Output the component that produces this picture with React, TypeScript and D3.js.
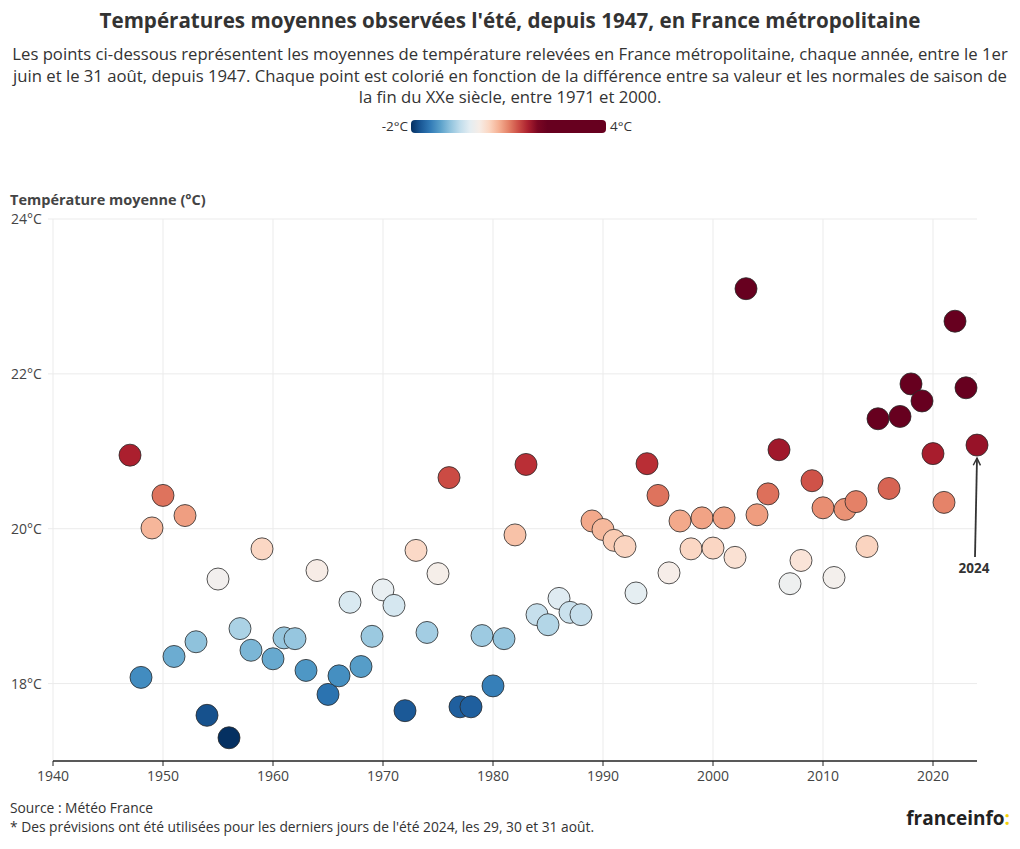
import React from "react";
import * as d3 from "d3";

const years: number[] = d3.range(1947, 2025);
const temps: number[] = [
  20.95, 18.08, 20.01, 20.43, 18.35, 20.17, 18.54, 17.59, 19.35, 17.30,
  18.71, 18.43, 19.74, 18.32, 18.59, 18.58, 18.17, 19.46, 17.86, 18.10,
  19.05, 18.22, 18.61, 19.21, 19.01, 17.65, 19.72, 18.66, 19.42, 20.66,
  17.70, 17.70, 18.62, 17.97, 18.58, 19.92, 20.83, 18.89, 18.76, 19.10,
  18.92, 18.89, 20.10, 19.99, 19.85, 19.77, 19.17, 20.84, 20.43, 19.43,
  20.10, 19.74, 20.14, 19.75, 20.14, 19.63, 23.10, 20.18, 20.45, 21.02,
  19.29, 19.59, 20.62, 20.27, 19.37, 20.25, 20.35, 19.77, 21.42, 20.52,
  21.45, 21.87, 21.65, 20.97, 20.34, 22.68, 21.82, 21.08,
];
const xTicks: number[] = [1940, 1950, 1960, 1970, 1980, 1990, 2000, 2010, 2020];
const yTicks: number[] = [18, 20, 22, 24];
const legendLabels: string[] = ["-2°C", "4°C"];
const subtitleLines: string[] = [
  "Les points ci-dessous représentent les moyennes de température relevées en France métropolitaine, chaque année, entre le 1er",
  "juin et le 31 août, depuis 1947. Chaque point est colorié en fonction de la différence entre sa valeur et les normales de saison de",
  "la fin du XXe siècle, entre 1971 et 2000.",
];

const FONT = "'Open Sans', Lato, sans-serif";
const W = 1020;
const H = 849;

export default function App() {
  const x = d3.scaleLinear().domain([1940, 2024]).range([53, 977]);
  const y = d3.scaleLinear().domain([17, 24]).range([761, 219]);
  const normalVals = years
    .map((yr, i) => ({ yr, t: temps[i] }))
    .filter((d) => d.yr >= 1971 && d.yr <= 2000)
    .map((d) => d.t);
  const normal = d3.mean(normalVals) as number;
  const color = (anom: number) => {
    const t = Math.max(0, Math.min(1, (anom + 2) / 4));
    return d3.interpolateRdBu(1 - t);
  };
  const legX = d3.scaleLinear().domain([-2, 4]).range([411, 606]);
  const stops = d3.range(0, 1.0001, 0.05).map((f) => {
    const a = -2 + 6 * f;
    return { off: f, c: color(a) };
  });
  const last = years.length - 1;
  const px = x(years[last]);
  const py = y(temps[last]);

  return (
    <svg
      width={W}
      height={H}
      style={{ position: "absolute", left: 0, top: 0, background: "#fff" }}
      fontFamily={FONT}
    >
      <defs>
        <linearGradient id="leg" x1="0" x2="1" y1="0" y2="0">
          {stops.map((s, i) => (
            <stop key={i} offset={s.off} stopColor={s.c} />
          ))}
        </linearGradient>
        <marker
          id="arr"
          viewBox="0 0 10 10"
          refX="9"
          refY="5"
          markerWidth="9"
          markerHeight="9"
          orient="auto"
          markerUnits="userSpaceOnUse"
        >
          <path d="M1,1 L9,5 L1,9" fill="none" stroke="#333" strokeWidth="1.6" />
        </marker>
      </defs>
      <text x={W / 2} y={28} textAnchor="middle" fontSize={20.6} fontWeight={700} fill="#333">
        Températures moyennes observées l'été, depuis 1947, en France métropolitaine
      </text>
      {subtitleLines.map((l, i) => (
        <text key={i} x={W / 2} y={60 + i * 21.5} textAnchor="middle" fontSize={16.7} fill="#333">
          {l}
        </text>
      ))}
      {/* legend */}
      <text x={legX(-2) - 3} y={131} textAnchor="end" fontSize={13.5} fill="#333">
        {legendLabels[0]}
      </text>
      <rect x={legX(-2)} y={120} width={legX(4) - legX(-2)} height={13} rx={4} fill="url(#leg)" />
      <text x={legX(4) + 4} y={131} fontSize={13.5} fill="#333">
        {legendLabels[1]}
      </text>
      {/* axis title */}
      <text x={10} y={205} fontSize={14.5} fontWeight={700} fill="#444">
        Température moyenne (°C)
      </text>
      {/* grid */}
      {xTicks.map((t) => (
        <line key={"gx" + t} x1={x(t)} x2={x(t)} y1={y(24)} y2={y(17)} stroke="#ebebeb" />
      ))}
      {yTicks.map((t) => (
        <g key={"gy" + t}>
          <line x1={48} x2={x(2024)} y1={y(t)} y2={y(t)} stroke="#ebebeb" />
          <text x={11} y={y(t) + 5} fontSize={14} fill="#444">
            {t}°C
          </text>
        </g>
      ))}
      {/* x axis */}
      <line x1={x(1940)} x2={x(2024)} y1={y(17)} y2={y(17)} stroke="#222" strokeWidth={1.3} />
      {xTicks.map((t) => (
        <g key={"tx" + t}>
          <line x1={x(t)} x2={x(t)} y1={y(17)} y2={y(17) + 5} stroke="#222" />
          <text x={x(t)} y={y(17) + 20} textAnchor="middle" fontSize={14} fill="#444">
            {t}
          </text>
        </g>
      ))}
      {/* points */}
      {years.map((yr, i) => (
        <circle
          key={yr}
          cx={x(yr)}
          cy={y(temps[i])}
          r={11}
          fill={color(temps[i] - normal)}
          stroke="#2a2a2a"
          strokeWidth={0.8}
        />
      ))}
      {/* annotation */}
      <line x1={px - 2} y1={py + 112} x2={px} y2={py + 13} stroke="#333" strokeWidth={1.8} markerEnd="url(#arr)" />
      <text x={px - 3} y={py + 128} textAnchor="middle" fontSize={13.5} fontWeight={700} fill="#333">
        {years[last]}
      </text>
      {/* footer */}
      <text x={10} y={813} fontSize={13.8} fill="#333">
        Source : Météo France
      </text>
      <text x={10} y={832} fontSize={13.8} fill="#333">
        * Des prévisions ont été utilisées pour les derniers jours de l'été 2024, les 29, 30 et 31 août.
      </text>
      <text x={1010} y={825} textAnchor="end" fontSize={19} fontWeight={700} fill="#222">
        franceinfo<tspan fill="#f5d20a">:</tspan>
      </text>
    </svg>
  );
}
